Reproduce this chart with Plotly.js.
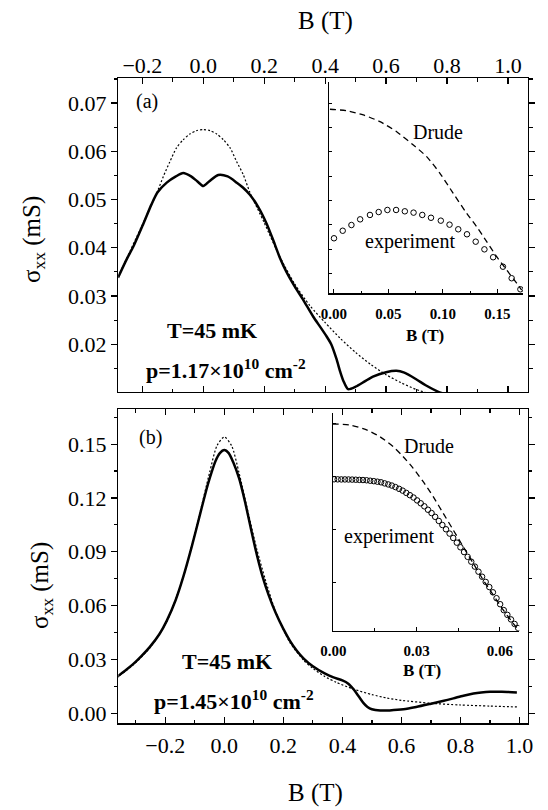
<!DOCTYPE html>
<html><head><meta charset="utf-8">
<script src="https://cdn.plot.ly/plotly-3.0.1.min.js"></script>
<style>html,body{margin:0;padding:0;background:#fff}#chart{width:548px;height:810px}</style>
</head><body><div id="chart"></div>
<script>
// ---------- Panel (a): p = 1.17e10 cm^-2 ----------
const B_a_exp = [-0.28,-0.25,-0.23,-0.2,-0.17,-0.15,-0.12,-0.09,-0.066,-0.04,-0.02,0,0.02,0.049,0.08,0.11,0.13,0.153,0.18,0.208,0.23,0.251,0.273,0.3,0.328,0.361,0.385,0.405,0.42,0.437,0.45,0.46,0.475,0.5,0.53,0.557,0.6,0.634,0.66,0.7,0.73,0.77,0.8];
const s_a_exp = [0.0338,0.0378,0.0402,0.0445,0.0490,0.0515,0.0535,0.0548,0.0555,0.0548,0.0538,0.0528,0.0538,0.0551,0.0548,0.0535,0.0525,0.0510,0.0485,0.0450,0.0415,0.0380,0.0350,0.0320,0.0292,0.0257,0.0235,0.0216,0.0200,0.0170,0.0142,0.0124,0.0107,0.0112,0.0123,0.0133,0.0142,0.0145,0.0141,0.0127,0.0115,0.0102,0.0095];
const B_a_drude = [-0.28,-0.25,-0.2,-0.153,-0.131,-0.11,-0.088,-0.066,-0.044,-0.022,0,0.022,0.044,0.066,0.088,0.11,0.131,0.153,0.2,0.25,0.3,0.35,0.4,0.45,0.5,0.55,0.6,0.65,0.7,0.75];
const s_a_drude = [0.0340,0.0380,0.0448,0.0513,0.0548,0.0578,0.0607,0.0624,0.0636,0.0643,0.0645,0.0643,0.0636,0.0624,0.0607,0.0578,0.0552,0.0515,0.0452,0.0383,0.0325,0.0280,0.0245,0.0212,0.0183,0.0158,0.0137,0.0120,0.0106,0.0096];
// inset (a)
const B_ia_exp = [0.000,0.008,0.016,0.024,0.033,0.041,0.049,0.057,0.065,0.073,0.081,0.089,0.098,0.106,0.114,0.122,0.130,0.138,0.146,0.155,0.163,0.171];
const s_ia_exp = [0.05389,0.05451,0.05498,0.05545,0.05581,0.05605,0.05622,0.05622,0.05611,0.05600,0.05581,0.05558,0.05534,0.05501,0.05463,0.05422,0.05361,0.05298,0.05233,0.05155,0.05060,0.04969];
const B_ia_drude = [-0.0037,0.0117,0.0269,0.0422,0.0575,0.0728,0.0850,0.0972,0.1094,0.1217,0.1309,0.1401,0.1493,0.1584,0.1676,0.1722];
const s_ia_drude = [0.06451,0.06439,0.06404,0.06349,0.06266,0.06157,0.06061,0.05924,0.05759,0.05595,0.05484,0.05361,0.05237,0.05128,0.05019,0.04963];

// ---------- Panel (b): p = 1.45e10 cm^-2 ----------
const B_b_exp = [-0.365,-0.358,-0.33,-0.308,-0.28,-0.252,-0.22,-0.195,-0.165,-0.139,-0.11,-0.082,-0.06,-0.0485,-0.03,-0.015,0,0.015,0.03,0.05,0.07,0.09,0.11,0.13,0.15,0.174,0.2,0.222,0.245,0.269,0.3,0.34,0.37,0.4,0.42,0.437,0.455,0.471,0.485,0.5,0.528,0.56,0.607,0.65,0.697,0.74,0.776,0.81,0.844,0.87,0.9,0.94,0.991];
const s_b_exp = [0.0200,0.0210,0.0245,0.0275,0.0320,0.0370,0.0440,0.0515,0.0630,0.0760,0.0930,0.1110,0.1250,0.1315,0.1405,0.1450,0.1467,0.1450,0.1400,0.1310,0.1180,0.1030,0.0885,0.0760,0.0660,0.0560,0.0470,0.0405,0.0350,0.0305,0.0262,0.0222,0.0200,0.0183,0.0165,0.0135,0.0095,0.0058,0.0035,0.0022,0.0015,0.0016,0.0022,0.0035,0.0052,0.0068,0.0083,0.0098,0.0110,0.0116,0.0120,0.0120,0.0116];
const B_b_drude = [-0.365,-0.308,-0.252,-0.195,-0.139,-0.11,-0.082,-0.05,-0.025,0,0.025,0.05,0.082,0.11,0.139,0.174,0.222,0.269,0.3,0.34,0.38,0.437,0.5,0.55,0.6,0.697,0.8,0.9,0.991];
const s_b_drude = [0.0198,0.0270,0.0365,0.0510,0.0760,0.0940,0.1120,0.1340,0.1490,0.1540,0.1490,0.1340,0.1110,0.0915,0.0745,0.0565,0.0395,0.0295,0.0250,0.0205,0.0172,0.0135,0.0104,0.0085,0.0072,0.0056,0.0046,0.0040,0.0035];
// inset (b)
const B_ib_exp = [0.0003,0.0016,0.0029,0.0042,0.0055,0.0068,0.0081,0.0094,0.0107,0.0120,0.0133,0.0146,0.0159,0.0172,0.0185,0.0198,0.0211,0.0224,0.0237,0.0250,0.0263,0.0276,0.0289,0.0302,0.0315,0.0328,0.0341,0.0354,0.0367,0.0380,0.0393,0.0406,0.0419,0.0432,0.0445,0.0458,0.0471,0.0484,0.0497,0.0510,0.0523,0.0536,0.0549,0.0562,0.0575,0.0588,0.0601,0.0614,0.0627,0.0640,0.0653,0.0666];
const s_ib_exp = [0.14670,0.14669,0.14668,0.14668,0.14667,0.14666,0.14664,0.14662,0.14660,0.14657,0.14651,0.14645,0.14638,0.14630,0.14616,0.14602,0.14587,0.14567,0.14544,0.14520,0.14490,0.14460,0.14429,0.14391,0.14353,0.14313,0.14268,0.14224,0.14174,0.14120,0.14066,0.14010,0.13953,0.13895,0.13833,0.13772,0.13709,0.13646,0.13582,0.13517,0.13450,0.13384,0.13315,0.13247,0.13178,0.13100,0.13021,0.12943,0.12880,0.12820,0.12760,0.12705];
const B_ib_drude = [-0.0002,0.0060,0.0120,0.0168,0.0216,0.0252,0.0288,0.0324,0.0360,0.0396,0.0432,0.0468,0.0504,0.0540,0.0576,0.0612,0.0648,0.0670];
const s_ib_drude = [0.15400,0.15387,0.15321,0.15232,0.15100,0.14968,0.14815,0.14638,0.14440,0.14221,0.14001,0.13780,0.13561,0.13341,0.13143,0.12945,0.12769,0.12670];

// text
const xTitle = 'B (T)';
const yTitle = 'σ<sub>xx</sub> (mS)';
const tempLabel = 'T=45 mK';
const densA = 'p=1.17×10<sup>10</sup> cm<sup>-2</sup>';
const densB = 'p=1.45×10<sup>10</sup> cm<sup>-2</sup>';

// ---------- drawing ----------
const W = 548, H = 810;
const FONT = 'Liberation Serif, Times New Roman, serif';
const px = v => v / W, py = v => 1 - v / H;

const solid = {color:'#000', width:2.5, shape:'spline', smoothing:0.7};
const dotted = {color:'#000', width:1.2, dash:'2px,2px', shape:'spline', smoothing:0.7};
const dashed = {color:'#000', width:1.3, dash:'6px,4px', shape:'spline', smoothing:0.7};
const circ = {symbol:'circle-open', size:5.5, color:'#000', line:{color:'#000', width:1}};

const data = [
  {x:B_a_drude, y:s_a_drude, xaxis:'x', yaxis:'y', mode:'lines', line:dotted},
  {x:B_a_exp, y:s_a_exp, xaxis:'x', yaxis:'y', mode:'lines', line:solid},
  {x:B_ia_drude, y:s_ia_drude, xaxis:'x3', yaxis:'y3', mode:'lines', line:dashed},
  {x:B_ia_exp, y:s_ia_exp, xaxis:'x3', yaxis:'y3', mode:'markers', marker:circ},
  {x:B_b_drude, y:s_b_drude, xaxis:'x2', yaxis:'y2', mode:'lines', line:dotted},
  {x:B_b_exp, y:s_b_exp, xaxis:'x2', yaxis:'y2', mode:'lines', line:solid},
  {x:B_ib_drude, y:s_ib_drude, xaxis:'x4', yaxis:'y4', mode:'lines', line:dashed},
  {x:B_ib_exp, y:s_ib_exp, xaxis:'x4', yaxis:'y4', mode:'markers', marker:circ}
];

const tickFont = {family:FONT, size:22, color:'#000'};
const mainX = (anchor, side, range, dom, standoff) => ({
  anchor, side, range, domain:dom, tick0:0, dtick:0.2, tickformat:'.1f',
  ticks:'inside', ticklen:6, tickwidth:1.2, tickcolor:'#000',
  minor:{dtick:0.1, ticks:'inside', ticklen:3.5, tickwidth:1.2, tickcolor:'#000'},
  showline:true, linecolor:'#000', linewidth:1.3, mirror:'ticks',
  showgrid:false, zeroline:false, showticklabels:true, tickfont:tickFont,
  ticklabelstandoff: standoff, fixedrange:true
});
const mainY = (anchor, range, dom, dtick) => ({
  anchor, range, domain:dom, tick0:0, dtick, tickformat:'.2f',
  ticks:'outside', ticklen:6, tickwidth:1.2, tickcolor:'#000',
  minor:{dtick:dtick/2, ticks:'outside', ticklen:3.5, tickwidth:1.2, tickcolor:'#000'},
  showline:true, linecolor:'#000', linewidth:1.3, mirror:'ticks',
  showgrid:false, zeroline:false, tickfont:tickFont, ticklabelstandoff:0, fixedrange:true
});
const insetFont = {family:FONT, size:15, color:'#000', weight:'bold'};
const insetX = (anchor, range, dom, dtick) => ({
  anchor, range, domain:dom, tick0:0, dtick, tickformat:'.2f',
  ticks:'inside', ticklen:4, tickwidth:1, tickcolor:'#000',
  minor:{dtick:dtick/2, ticks:'inside', ticklen:2.5, tickwidth:1, tickcolor:'#000'},
  showline:true, linecolor:'#000', linewidth:1.2, showgrid:false, zeroline:false,
  tickfont:insetFont, ticklabelstandoff:6, fixedrange:true
});
const insetY = (anchor, range, dom, tick0, dtick) => ({
  anchor, range, domain:dom, tick0, dtick, ticks:'inside', ticklen:3, tickwidth:1, tickcolor:'#000',
  showline:true, linecolor:'#000', linewidth:1.2, showgrid:false, zeroline:false,
  showticklabels:false, fixedrange:true
});

const ann = (text, x, y, size, extra) => Object.assign({
  text, x:px(x), y:py(y), xref:'paper', yref:'paper', showarrow:false,
  xanchor:'center', yanchor:'middle', font:{family:FONT, size, color:'#000'}
}, extra || {});
const bold = (size) => ({font:{family:FONT, size, color:'#000', weight:'bold'}});

const layout = {
  width:W, height:H, margin:{l:0, r:0, t:0, b:0},
  paper_bgcolor:'#fff', plot_bgcolor:'rgba(0,0,0,0)', showlegend:false, hovermode:false,
  xaxis: mainX('y', 'top', [-0.279, 1.066], [px(118.3), px(528)], -5),
  yaxis: mainY('x', [0.0101, 0.0752], [py(392), py(78)], 0.01),
  xaxis2: mainX('y2', 'bottom', [-0.359, 1.027], [px(118.3), px(527.5)], 2),
  yaxis2: mainY('x2', [-0.0056, 0.1694], [py(723.3), py(409.3)], 0.03),
  xaxis3: insetX('y3', [-0.0043, 0.1734], [px(329.3), px(523)], 0.05),
  yaxis3: insetY('x3', [0.04936, 0.06678], [py(293.3), py(81.7)], 0.065, 0.002),
  xaxis4: insetX('y4', [-0.0002, 0.067], [px(332.7), px(519.3)], 0.03),
  yaxis4: insetY('x4', [0.12671, 0.15541], [py(630.7), py(413.3)], 0.1401, 0.007),
  annotations: [
    ann(xTitle, 325, 21, 25),
    ann(xTitle, 315, 793, 25),
    ann(yTitle, 33, 240, 25, {textangle:-90}),
    ann(yTitle, 41, 586, 25, {textangle:-90}),
    ann('(a)', 147, 102, 20),
    ann('(b)', 150, 437, 20),
    ann(tempLabel, 212, 330, 22, bold(22)),
    ann(densA, 226, 369, 22, bold(22)),
    ann(tempLabel, 227, 661, 22, bold(22)),
    ann(densB, 234, 700, 22, bold(22)),
    ann('Drude', 438, 132, 20),
    ann('experiment', 409.5, 242, 20),
    ann('Drude', 429.5, 446, 20),
    ann('experiment', 389, 536, 20),
    ann(xTitle, 425, 335, 17, bold(17)),
    ann(xTitle, 421.7, 670, 17, bold(17))
  ]
};

Plotly.newPlot('chart', data, layout, {staticPlot:true, displayModeBar:false});
</script>
</body></html>
